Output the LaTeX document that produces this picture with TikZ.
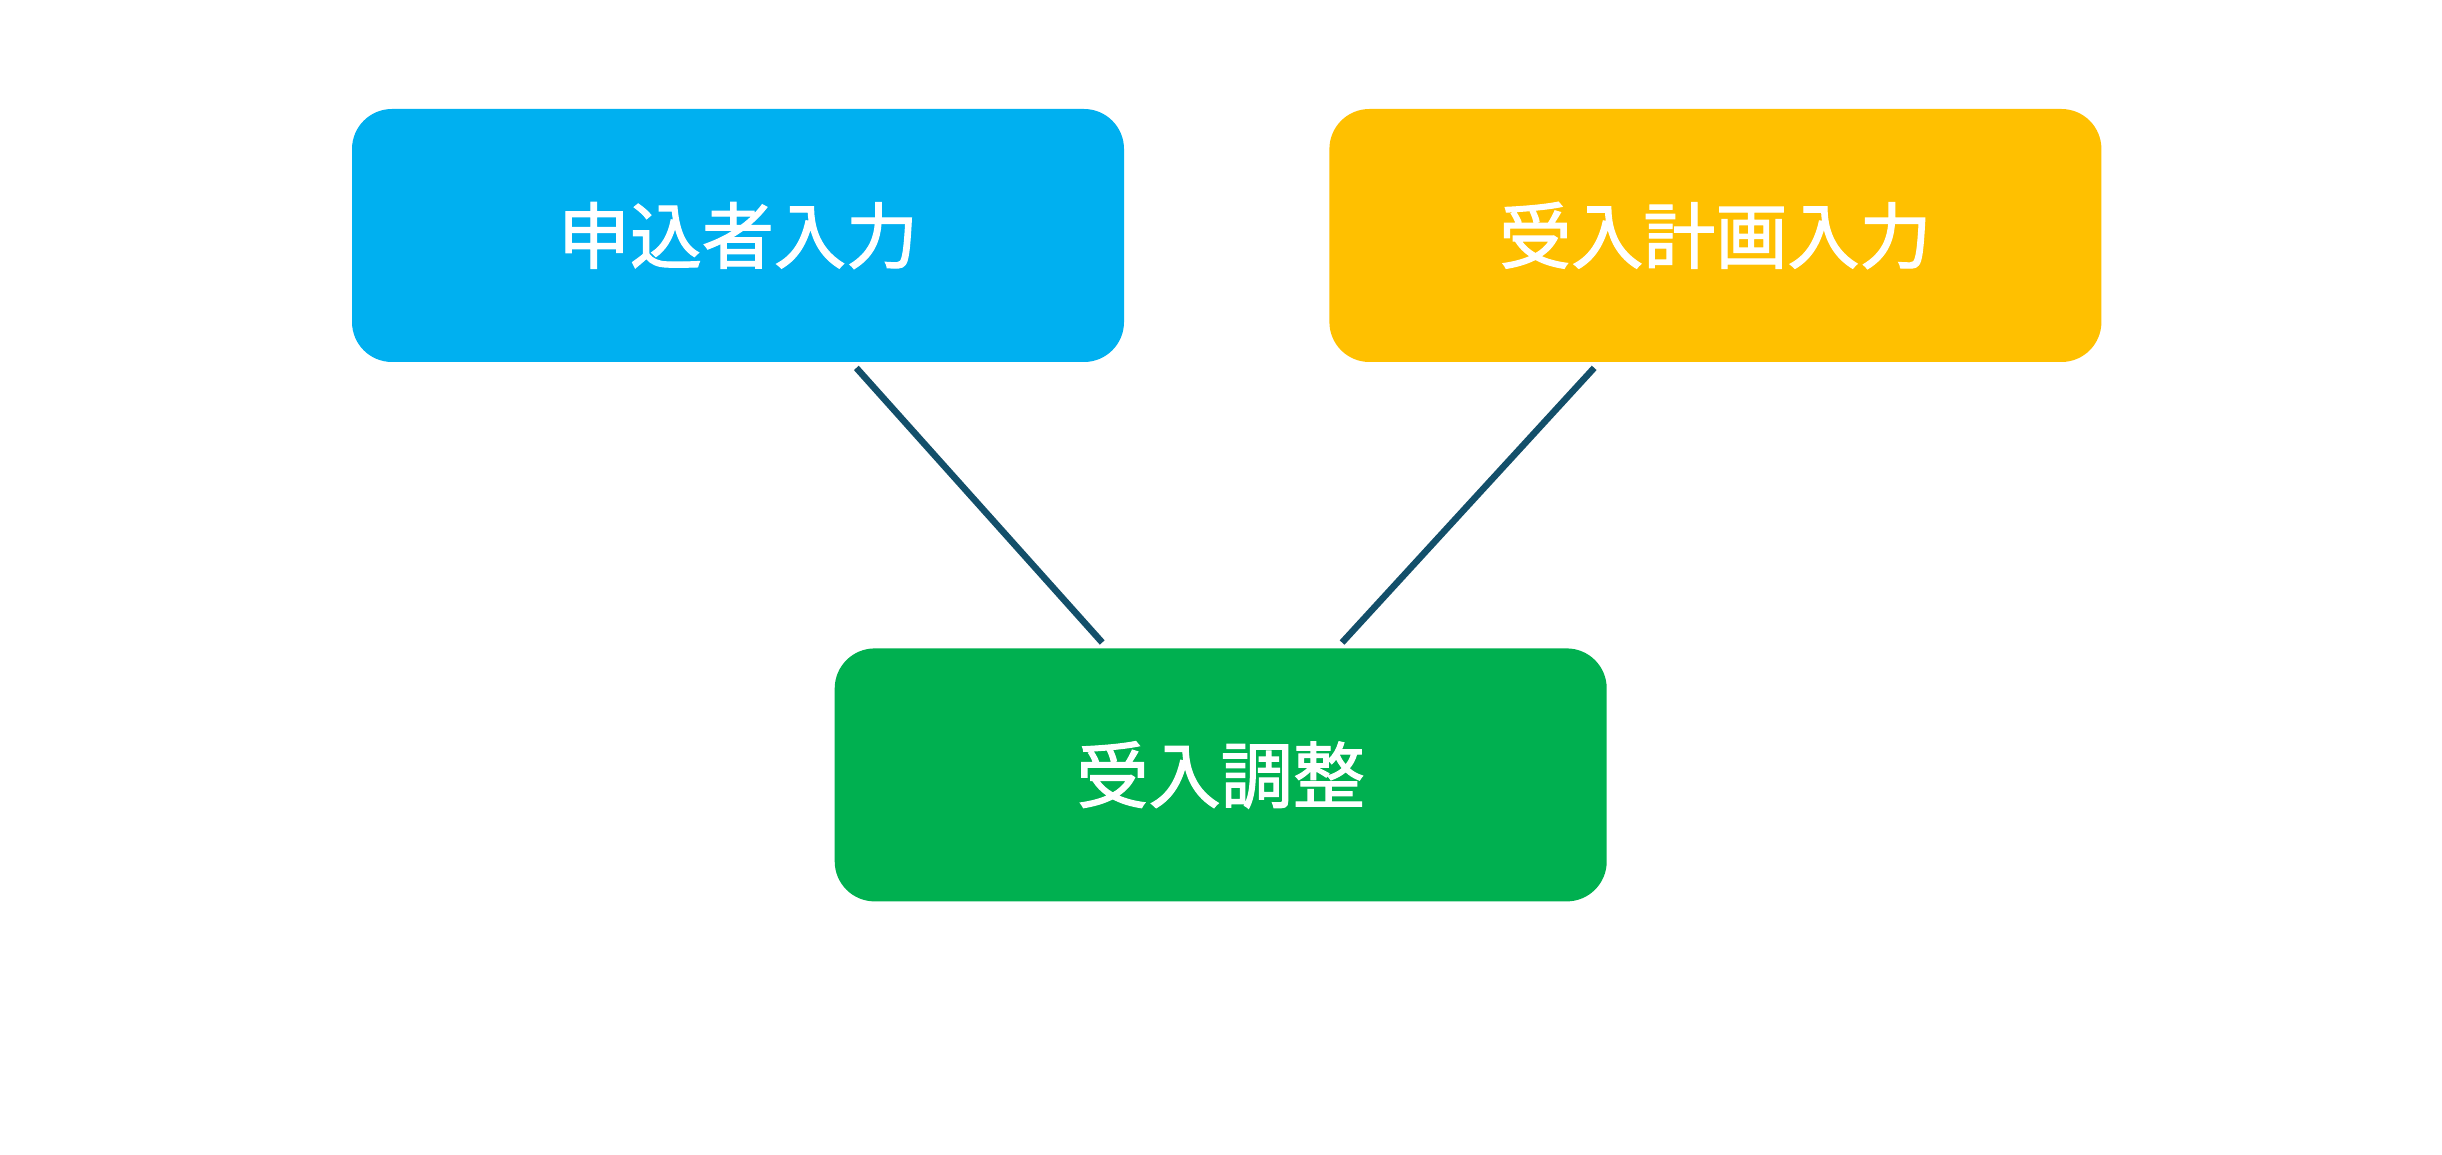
\documentclass[tikz,border=0pt]{standalone}
\usepackage{fontspec}
\newfontfamily\cjk[UprightFeatures={FakeBold=1.6}]{Noto Sans CJK JP}
\usetikzlibrary{
  calc,
  positioning
}
\definecolor{applyblue}{HTML}{00B0F0}
\definecolor{planyellow}{HTML}{FFC000}
\definecolor{adjustgreen}{HTML}{00B050}
\definecolor{linkteal}{HTML}{134F6A}
\tikzset{
  stagebox/.style={
    rounded corners=0.4cm,
    minimum width=7.72cm,
    minimum height=2.53cm,
    inner sep=0pt,
    text=white,
    font=\cjk\fontsize{20.5}{24}\selectfont,
    align=center
  },
  link/.style={
    draw=linkteal,
    line width=1.85pt,
    shorten <=0.07cm,
    shorten >=0.07cm
  }
}

\begin{document}
\begin{tikzpicture}
  \fill[white] (0,0) rectangle (24.42,-11.55);
  \useasboundingbox (0,0) rectangle (24.42,-11.55);

  \node[stagebox, fill=applyblue] (apply) at (7.38,-2.355) {申込者入力};
  \node[stagebox, fill=planyellow, right=2.04cm of apply] (plan) {受入計画入力};
  \node[stagebox, fill=adjustgreen, anchor=north]
    (adjust) at ($(apply.south)!0.5!(plan.south)+(-0.06,-2.85)$) {受入調整};

  \draw[link] (apply) -- (adjust);
  \draw[link] (plan) -- (adjust);
\end{tikzpicture}
\end{document}
